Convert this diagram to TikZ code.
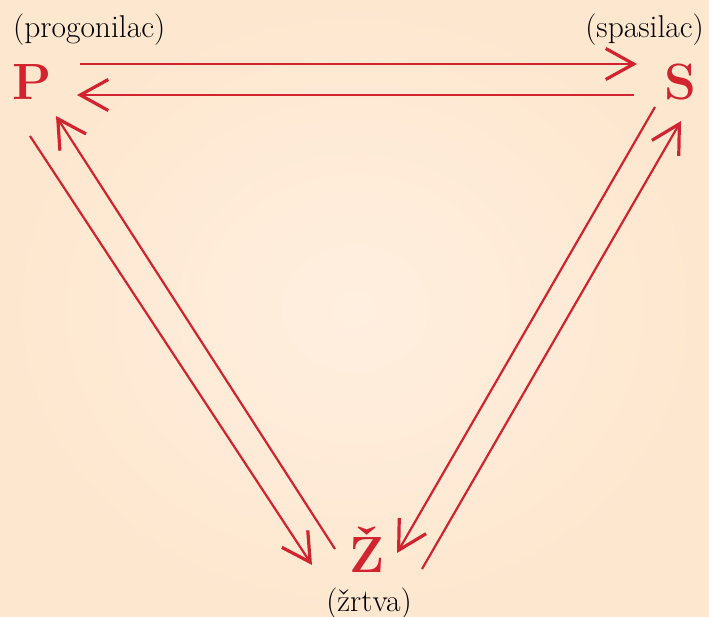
\documentclass[tikz,border=0pt]{standalone}
\usepackage{fontspec}
\usetikzlibrary{arrows.meta}
\definecolor{arrred}{RGB}{210,36,46}
\definecolor{bgin}{RGB}{255,239,224}
\definecolor{bgout}{RGB}{254,231,207}
\begin{document}
\begin{tikzpicture}[x=1bp,y=-1bp,
  letter/.style={inner sep=0pt, text=arrred, font=\fontsize{51bp}{60bp}\selectfont\bfseries},
  lbl/.style={inner sep=0pt, text=black, font=\fontsize{31.5bp}{38bp}\selectfont},
  arr/.style={draw=arrred, line width=2.2bp, -{Straight Barb[length=28bp,width=31bp,line width=3.2bp]}}]
\shade[inner color=bgin, outer color=bgout] (0,0) rectangle (709,617);
\useasboundingbox (0,0) rectangle (709,617);
% labels
\node[lbl, anchor=base west] (lp) at (13,38) {(progonilac)};
\node[lbl, anchor=base east] (ls) at (704,38) {(spasilac)};
\node[lbl, anchor=base] (lz) at (369,611) {(žrtva)};
% letters
\node[letter, anchor=base west] (P) at (12,100) {P};
\node[letter, anchor=base east] (S) at (697,100) {S};
\node[letter, anchor=base] (Z) at (367,572) {Ž};
% connector ends
\coordinate (ps1) at (80,64);   \coordinate (ps2) at (637,64);
\coordinate (sp1) at (634,95);  \coordinate (sp2) at (77,95);
\coordinate (pz1) at (30,136);  \coordinate (pz2) at (312,565);
\coordinate (zp1) at (335,549); \coordinate (zp2) at (56,116);
\coordinate (sz1) at (655,107); \coordinate (sz2) at (397,553);
\coordinate (zs1) at (422,569); \coordinate (zs2) at (681,121);
\draw[arr] (ps1) -- (ps2);
\draw[arr] (sp1) -- (sp2);
\draw[arr] (pz1) -- (pz2);
\draw[arr] (zp1) -- (zp2);
\draw[arr] (sz1) -- (sz2);
\draw[arr] (zs1) -- (zs2);
\end{tikzpicture}
\end{document}
